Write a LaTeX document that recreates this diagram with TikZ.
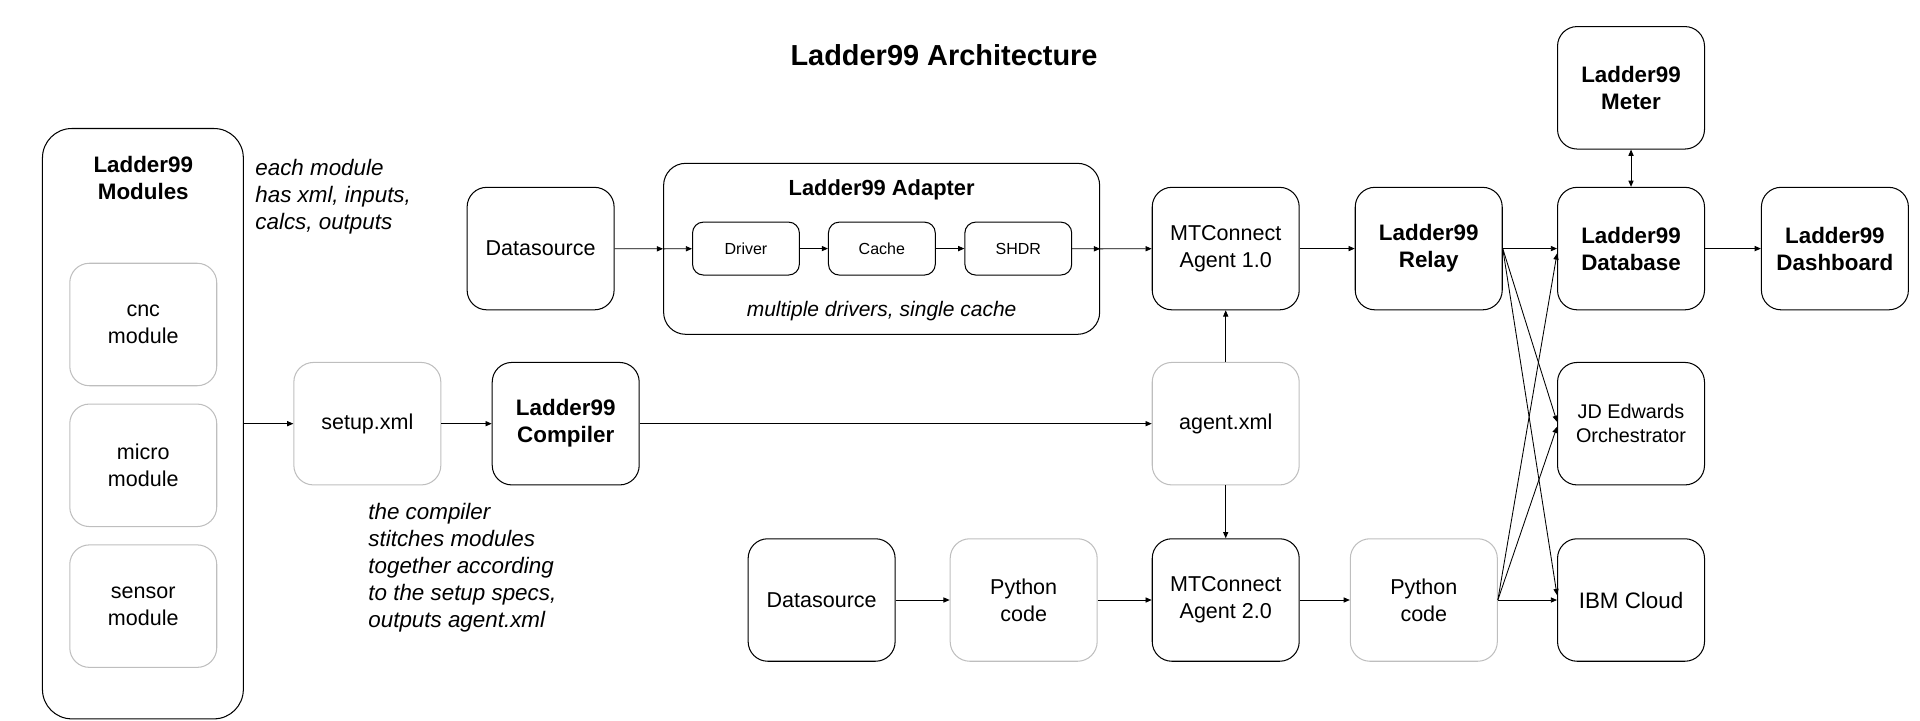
\documentclass[tikz,border=0pt]{standalone}
\usepackage{fontspec}
\setmainfont{Liberation Sans}
\usetikzlibrary{arrows.meta,calc}

\definecolor{boxgray}{RGB}{190,190,190}

\tikzset{
  box/.style={draw=black, line width=0.6pt, rounded corners=0.4cm,
    minimum width=3cm, minimum height=2.5cm, align=center, inner sep=2pt,
    font=\fontsize{12.5}{15.7}\selectfont},
  boldbox/.style={box, font=\fontsize{13}{15.7}\selectfont\bfseries},
  filebox/.style={box, draw=boxgray},
  partbox/.style={box, minimum width=2.18cm, minimum height=1.08cm,
    rounded corners=0.22cm, font=\fontsize{9.3}{11}\selectfont},
  note/.style={align=left, inner sep=0pt,
    font=\fontsize{13}{15.7}\selectfont\itshape},
  link/.style={-{Triangle[length=3.6pt,width=3pt]}, line width=0.5pt},
  twolink/.style={{Triangle[length=3.6pt,width=3pt]}-{Triangle[length=3.6pt,width=3pt]}, line width=0.5pt},
}

\begin{document}
\begin{tikzpicture}[x=0.025cm, y=-0.025cm]
% Page frame
\useasboundingbox (0,0) rectangle (1568,588);

% Title
\node[anchor=base, font=\fontsize{16.8}{19}\selectfont\bfseries] (title) at (771,53.6) {Ladder99 Architecture};

% Modules column
\node[box, minimum width=4.1cm, minimum height=12.05cm, rounded corners=0.6cm] (modules) at (116.7,346) {};
\node[font=\fontsize{13}{15.7}\selectfont\bfseries, align=center] (modtitle) at (117,145) {Ladder99\\Modules};
\node[filebox] (cnc) at (117,265) {cnc\\module};
\node[filebox] (micro) at (117,380) {micro\\module};
\node[filebox] (sensor) at (117,495) {sensor\\module};
\node[note, anchor=north west] (modnote) at (208.3,130) {each module\\has xml, inputs,\\calcs, outputs};

% Compiler row
\node[filebox] (setup) at (300,346) {setup.xml};
\node[boldbox] (compiler) at (462,346) {Ladder99\\Compiler};
\node[filebox] (agentxml) at (1001,346) {agent.xml};
\node[note, anchor=north west] (compnote) at (300.6,410.5) {the compiler\\stitches modules\\together according\\to the setup specs,\\outputs agent.xml};

% Adapter row
\node[box] (dstop) at (441.5,203) {Datasource};
\node[box, minimum width=8.9cm, minimum height=3.49cm, rounded corners=0.45cm] (adapter) at (720,203.2) {};
\node[anchor=base, font=\fontsize{12.7}{15}\selectfont\bfseries] (adtitle) at (720,159.8) {Ladder99 Adapter};
\node[partbox] (driver) at (609.2,203) {Driver};
\node[partbox] (cache) at (720.2,203) {Cache};
\node[partbox] (shdr) at (831.6,203) {SHDR};
\node[anchor=base, font=\fontsize{12.2}{14}\selectfont\itshape] (adnote) at (720,258.8) {multiple drivers, single cache};
\node[box] (agent1) at (1001,203) {MTConnect\\Agent 1.0};
\node[boldbox] (relay) at (1166.8,203) {Ladder99\\Relay};
\node[boldbox] (db) at (1332,203) {Ladder99\\Database};
\node[boldbox] (meter) at (1332,71.7) {Ladder99\\Meter};
\node[boldbox] (dash) at (1498.5,203) {Ladder99\\Dashboard};

% Outputs
\node[box, font=\fontsize{11.5}{14}\selectfont] (jde) at (1332,346) {JD Edwards\\Orchestrator};
\node[box, font=\fontsize{13}{15.7}\selectfont] (ibm) at (1332,490) {IBM Cloud};

% Python row
\node[box] (dsbot) at (671,490) {Datasource};
\node[filebox] (pya) at (836,490) {Python\\code};
\node[box] (agent2) at (1001,490) {MTConnect\\Agent 2.0};
\node[filebox] (pyb) at (1162.8,490) {Python\\code};

% Arrows
\draw[link] (modules.east |- setup.west) -- (setup.west);
\draw[link] (setup) -- (compiler);
\draw[link] (compiler) -- (agentxml);
\draw[link] (agentxml) -- (agent1);
\draw[link] (agentxml) -- (agent2);
\draw[link] (dstop) -- (adapter.west);
\draw[link] (adapter.west) -- (driver);
\draw[link] (driver) -- (cache);
\draw[link] (cache) -- (shdr);
\draw[link] (shdr) -- (adapter.east);
\draw[link] (adapter.east) -- (agent1);
\draw[link] (agent1) -- (relay);
\draw[link] (db) -- (dash);
\draw[twolink] (meter) -- (db);
\draw[link] (dsbot) -- (pya);
\draw[link] (pya) -- (agent2);
\draw[link] (agent2) -- (pyb);

% Relay and python fan out
\draw[link] (relay.east) -- (db.west);
\draw[link] (relay.east) -- ($(jde.west)+(0,-1.5)$);
\draw[link] (relay.east) -- ($(ibm.west)+(0,-4)$);
\draw[link] (pyb.east) -- (ibm.west);
\draw[link] (pyb.east) -- ($(jde.west)+(0,2.5)$);
\draw[link] (pyb.east) -- ($(db.west)+(0,4)$);
\end{tikzpicture}
\end{document}
